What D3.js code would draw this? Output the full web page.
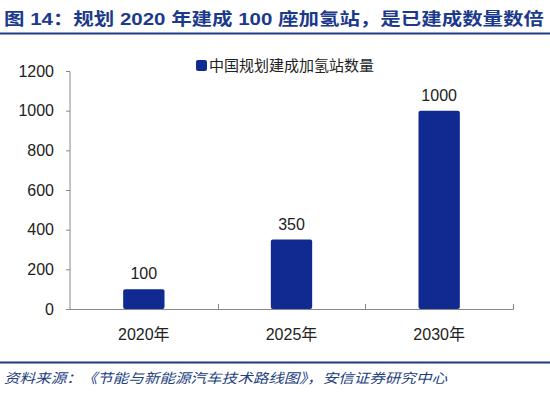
<!DOCTYPE html>
<html>
<head>
<meta charset="utf-8">
<script src="https://cdn.jsdelivr.net/npm/d3@7"></script>
<style>
  body { margin: 0; background: #fff; }
  #chart { width: 550px; height: 396px; }
  .title { font-family: "Liberation Sans", "Noto Sans CJK SC", sans-serif; font-weight: bold; font-size: 17px; fill: #1b3a8c; }
  .note { font-family: "Noto Sans CJK SC", sans-serif; font-style: italic; font-size: 13.5px; fill: #23407e; }
  .axis text { font-family: "Liberation Sans", "Noto Sans CJK SC", sans-serif; font-size: 16px; fill: #222; }
  .axis path, .axis line { stroke: #888; }
  .lbl { font-family: "Liberation Sans", sans-serif; font-size: 16px; fill: #222; }
  .legend { font-family: "Noto Sans CJK SC", sans-serif; font-size: 15px; fill: #222; }
</style>
</head>
<body>
<div id="chart"></div>
<script>
const years = ["2020年", "2025年", "2030年"];
const stations = [100, 350, 1000];
const yTicks = [0, 200, 400, 600, 800, 1000, 1200];
const seriesName = "中国规划建成加氢站数量";
const titleText = "图 14：规划 2020 年建成 100 座加氢站，是已建成数量数倍";
const sourceText = "资料来源：《节能与新能源汽车技术路线图》，安信证券研究中心";

const barColor = "#112a91";
const lineColor = "#1b3a8c";

const svg = d3.select("#chart")
    .append("svg")
    .attr("width", 550)
    .attr("height", 396);

// title + rules
svg.append("text")
    .attr("class", "title")
    .attr("x", 4)
    .attr("y", 25)
    .attr("textLength", 540)
    .attr("lengthAdjust", "spacingAndGlyphs")
    .text(titleText);

svg.append("line")
    .attr("x1", 0).attr("x2", 550)
    .attr("y1", 33.5).attr("y2", 33.5)
    .attr("stroke", lineColor)
    .attr("stroke-width", 2);

svg.append("line")
    .attr("x1", 0).attr("x2", 550)
    .attr("y1", 362.5).attr("y2", 362.5)
    .attr("stroke", lineColor)
    .attr("stroke-width", 2);

svg.append("text")
    .attr("class", "note")
    .attr("x", 4)
    .attr("y", 383)
    .attr("textLength", 443)
    .attr("lengthAdjust", "spacingAndGlyphs")
    .text(sourceText);

// plot area
const margin = { left: 70, top: 71, right: 37, bottom: 87 };
const width = 550 - margin.left - margin.right;
const height = 396 - margin.top - margin.bottom;

const g = svg.append("g")
    .attr("transform", `translate(${margin.left},${margin.top})`);

const x = d3.scaleBand()
    .domain(years)
    .range([0, width])
    .paddingInner(0.72)
    .paddingOuter(0.36);

const y = d3.scaleLinear()
    .domain([0, 1200])
    .range([height, 0]);

const yAxis = d3.axisLeft(y)
    .tickValues(yTicks)
    .tickFormat(d3.format("d"))
    .tickSize(4)
    .tickPadding(12);

g.append("g")
    .attr("class", "axis")
    .call(yAxis)
    .call(a => a.select(".domain").attr("d", `M0,0.5V${height}`));

// x axis, ticks sit on category boundaries
const xg = g.append("g")
    .attr("class", "axis")
    .attr("transform", `translate(0,${height})`);

xg.append("line")
    .attr("x1", 0).attr("x2", width)
    .attr("y1", 0.5).attr("y2", 0.5)
    .attr("stroke", "#888");

xg.selectAll(".bt")
    .data(years)
    .enter().append("line")
    .attr("x1", (d, i) => Math.round(x.step() * (i + 1)) + 0.5)
    .attr("x2", (d, i) => Math.round(x.step() * (i + 1)) + 0.5)
    .attr("y1", 0.5).attr("y2", -5)
    .attr("stroke", "#888");

xg.selectAll(".xl")
    .data(years)
    .enter().append("text")
    .attr("x", d => x(d) + x.bandwidth() / 2)
    .attr("y", 31)
    .attr("text-anchor", "middle")
    .text(d => d);

// bars
g.selectAll(".bar")
    .data(stations)
    .enter().append("rect")
    .attr("class", "bar")
    .attr("x", (d, i) => x(years[i]))
    .attr("y", d => y(d))
    .attr("width", x.bandwidth())
    .attr("height", d => height - y(d))
    .attr("rx", 2)
    .attr("fill", barColor);

g.selectAll(".lbl")
    .data(stations)
    .enter().append("text")
    .attr("class", "lbl")
    .attr("x", (d, i) => x(years[i]) + x.bandwidth() / 2)
    .attr("y", d => y(d) - 10)
    .attr("text-anchor", "middle")
    .text(d => d);

// legend
svg.append("rect")
    .attr("x", 196).attr("y", 60)
    .attr("width", 11).attr("height", 11)
    .attr("rx", 2)
    .attr("fill", barColor);

svg.append("text")
    .attr("class", "legend")
    .attr("x", 209)
    .attr("y", 71)
    .text(seriesName);
</script>
</body>
</html>
